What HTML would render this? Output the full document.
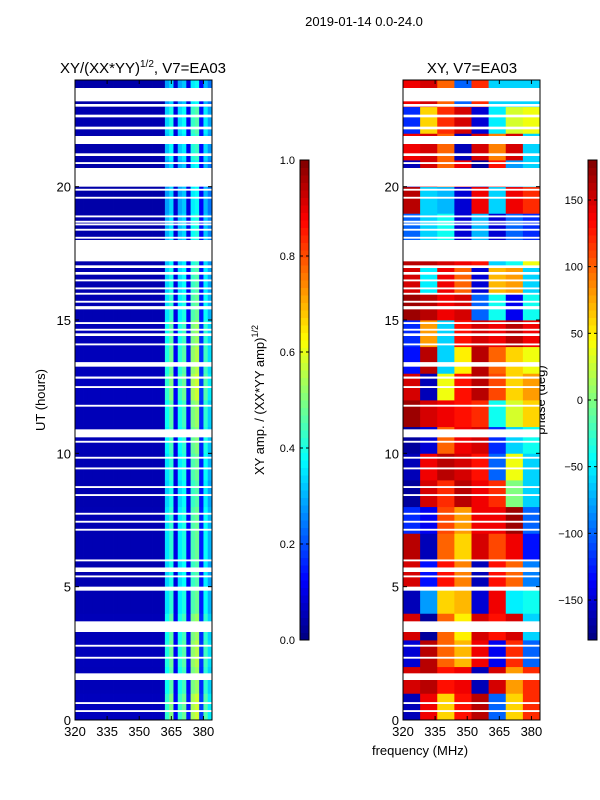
<!DOCTYPE html>
<html><head><meta charset="utf-8">
<style>
html,body{margin:0;padding:0;background:#fff;}
svg{display:block;font-family:"Liberation Sans",sans-serif;}
</style></head>
<body>
<svg id="fig" width="600" height="800" viewBox="0 0 600 800">
<text x="364" y="26" font-size="13" text-anchor="middle">2019-01-14 0.0-24.0</text>
<text x="143" y="73" font-size="15" text-anchor="middle">XY/(XX*YY)<tspan font-size="10" dy="-6">1/2</tspan><tspan dy="6">, V7=EA03</tspan></text>
<text x="472" y="73" font-size="15" text-anchor="middle">XY, V7=EA03</text>
<text x="45" y="400" font-size="13" text-anchor="middle" transform="rotate(-90 45 400)">UT (hours)</text>
<text x="420" y="755" font-size="13" text-anchor="middle">frequency (MHz)</text>
<text x="264" y="400" font-size="13" text-anchor="middle" transform="rotate(-90 264 400)">XY amp. / (XX*YY amp)<tspan font-size="9" dy="-6">1/2</tspan></text>
<text x="545" y="400" font-size="13" text-anchor="middle" transform="rotate(-90 545 400)">phase (deg)</text>
<g id="gL"></g><g id="gR"></g><g id="cb1"></g><g id="cb2"></g>
</svg>
<script>
// ---- data ----
const freqRange = [320, 384];
const timeRange = [0, 24];
const xTicks = [320, 335, 350, 365, 380];
const yTicks = [0, 5, 10, 15, 20];
// amplitude profile per 2 MHz channel (320..384)
const ampProfile = [0.05,0.05,0.05,0.05,0.05,0.05,0.05,0.05,0.05,0.05,0.05,0.05,0.05,0.05,0.05,0.05,0.05,0.05,0.05,0.05,0.05,0.35,0.42,0.1,0.36,0.4,0.12,0.45,0.48,0.15,0.38,0.3];
// per-hour amplitude scale (hour 0..23)
const ampHourScale = [1.2,1.1,1.15,1.1,1.0,0.95,1.0,1.0,0.95,1.0,1.05,1.1,1.2,1.15,1.1,1.0,0.95,0.9,0.85,0.8,0.8,0.9,0.95,0.8];
// phase (deg), rows = hour 0..23, cols = 8 MHz bins 320..384
const phase00 = [-160,140,60,130,160,-100,60,120];
const phase01 = [150,160,130,140,-160,150,80,120];
const phase02 = [-150,160,100,70,140,-140,120,-100];
const phase03 = [150,-170,100,50,150,130,150,-60];
const phase04 = [-160,-80,60,70,-150,140,-50,-40];
const phase05 = [150,-130,130,90,-160,130,100,-90];
const phase06 = [160,-160,100,60,150,110,140,-130];
const phase07 = [-120,-140,110,80,140,140,170,-100];
const phase08 = [-170,150,120,160,140,120,0,-60];
const phase09 = [-160,140,160,150,130,-100,40,-60];
const phase10 = [-170,-150,100,140,150,-120,-60,-40];
const phase11 = [170,150,140,130,120,-40,30,60];
const phase12 = [150,-160,40,130,160,110,60,80];
const phase13 = [-130,160,-60,50,160,100,60,40];
const phase14 = [-120,80,-60,130,150,140,160,140];
const phase15 = [170,160,140,150,-100,-40,-140,-40];
const phase16 = [150,-50,140,100,-150,70,80,-60];
const phase17 = [160,160,150,140,130,-60,-40,40];
const phase18 = [-100,-60,-40,-150,-70,-150,-100,-120];
const phase19 = [160,-60,-70,-150,140,-60,140,120];
const phase20 = [-160,150,100,140,-170,130,-80,-60];
const phase21 = [140,150,100,-160,150,90,150,-60];
const phase22 = [-120,60,120,150,-150,-50,30,40];
const phase23 = [140,150,100,-100,120,-60,-60,-60];
const phaseRows = [phase00,phase01,phase02,phase03,phase04,phase05,phase06,phase07,phase08,phase09,phase10,phase11,phase12,phase13,phase14,phase15,phase16,phase17,phase18,phase19,phase20,phase21,phase22,phase23];
// flagged (blank) time intervals [start, end] in hours
const flagStart = [23.2,23.0,22.6,22.15,21.6,21.15,20.85,20.0,19.85,19.55,18.85,18.65,18.55,18.35,18.05,17.2,16.95,16.7,16.45,16.15,15.95,15.65,15.4,14.85,14.6,14.4,14.05,13.25,12.8,12.45,11.75,10.6,10.4,9.8,9.4,8.7,8.4,7.7,7.4,7.1,5.95,5.55,5.35,4.85,3.3,2.75,2.3,1.5,0.6,0.3];
const flagEnd   = [23.7,23.1,22.7,22.25,21.9,21.25,20.92,20.7,19.92,19.62,18.92,18.72,18.62,18.42,18.12,18.0,17.05,16.8,16.52,16.22,16.02,15.72,15.52,14.92,14.67,14.5,14.12,13.42,12.88,12.52,11.82,10.9,10.47,9.87,9.47,8.77,8.47,7.77,7.47,7.17,6.02,5.72,5.42,5.0,3.7,2.82,2.37,1.75,0.67,0.37];
const ampTicks = [0.0,0.2,0.4,0.6,0.8,1.0];
const phaseTicks = [-150,-100,-50,0,50,100,150];

// ---- helpers ----
const NS = "http://www.w3.org/2000/svg";
function jet(v){ v=Math.max(0,Math.min(1,v));
  const r=Math.max(0,Math.min(1,1.5-Math.abs(4*v-3)));
  const g=Math.max(0,Math.min(1,1.5-Math.abs(4*v-2)));
  const b=Math.max(0,Math.min(1,1.5-Math.abs(4*v-1)));
  return `rgb(${Math.round(r*255)},${Math.round(g*255)},${Math.round(b*255)})`; }
function mk(tag, attrs, parent){ const e=document.createElementNS(NS,tag); for(const k in attrs) e.setAttribute(k,attrs[k]); parent.appendChild(e); return e; }
const yTop=80, yBot=720;
function yScale(h){ return yBot-(h-timeRange[0])/(timeRange[1]-timeRange[0])*(yBot-yTop); }
function xScaleFor(x0,x1){ return f => x0+(f-freqRange[0])/(freqRange[1]-freqRange[0])*(x1-x0); }

function drawPanel(g, x0, x1, cellFn, nCols, showYLabels, name){
  const xs = xScaleFor(x0,x1);
  const df = (freqRange[1]-freqRange[0])/nCols;
  for(let h=0; h<24; h++){
    for(let c=0;c<nCols;c++){
      const fx0=xs(freqRange[0]+c*df), fx1=xs(freqRange[0]+(c+1)*df);
      const r=mk('rect',{x:fx0,y:yScale(h+1),width:fx1-fx0+0.4,height:yScale(h)-yScale(h+1)+0.4,fill:jet(cellFn(h,c))},g);
      
      
    }
  }
  for(let i=0;i<flagStart.length;i++){
    const r=mk('rect',{x:x0,y:yScale(flagEnd[i]),width:x1-x0,height:yScale(flagStart[i])-yScale(flagEnd[i]),fill:'#fff'},g);
    
    
  }
  const fr=mk('rect',{x:x0,y:yTop,width:x1-x0,height:yBot-yTop,fill:'none',stroke:'#000','stroke-width':1},g);
  
  
  xTicks.forEach(t=>{ const x=xs(t);
    mk('line',{x1:x,y1:yBot,x2:x,y2:yBot-4,stroke:'#000'},g);
    mk('line',{x1:x,y1:yTop,x2:x,y2:yTop+4,stroke:'#000'},g);
    const tx=mk('text',{x:x,y:yBot+16,'font-size':13,'text-anchor':'middle'},g); tx.textContent=t;
    
    
  });
  yTicks.forEach(t=>{ const y=yScale(t);
    mk('line',{x1:x0,y1:y,x2:x0+4,y2:y,stroke:'#000'},g);
    mk('line',{x1:x1,y1:y,x2:x1-4,y2:y,stroke:'#000'},g);
    if(showYLabels||true){ const tx=mk('text',{x:x0-4,y:y+5,'font-size':13,'text-anchor':'end'},g); tx.textContent=t;
      
       }
  });
}
drawPanel(document.getElementById('gL'),75,212,(h,c)=>ampProfile[c]*ampHourScale[h],ampProfile.length,true,'amp');
drawPanel(document.getElementById('gR'),403,540,(h,c)=>(phaseRows[h][c]+180)/360,8,true,'phase');

function drawCbar(g,x,vmin,vmax,ticks,fmt,name){
  const n=64, y0=160, y1=640;
  for(let i=0;i<n;i++){
    const r=mk('rect',{x:x,y:y1-(i+1)*(y1-y0)/n,width:9,height:(y1-y0)/n+0.5,fill:jet((i+0.5)/n)},g);
    
    
  }
  const fr=mk('rect',{x:x,y:y0,width:9,height:y1-y0,fill:'none',stroke:'#000'},g);
  
  
  ticks.forEach(t=>{ const y=y1-(t-vmin)/(vmax-vmin)*(y1-y0);
    mk('line',{x1:x,y1:y,x2:x+3,y2:y,stroke:'#000'},g);
    mk('line',{x1:x+9,y1:y,x2:x+6,y2:y,stroke:'#000'},g);
    const tx=mk('text',{x:x-5,y:y+4,'font-size':11,'text-anchor':'end'},g); tx.textContent=fmt(t);
    
    
  });
}
drawCbar(document.getElementById('cb1'),300,0,1,ampTicks,t=>t.toFixed(1),'amp-colorbar');
drawCbar(document.getElementById('cb2'),588,-180,180,phaseTicks,t=>String(t).replace('-','\u2212'),'phase-colorbar');
</script>
</body></html>
